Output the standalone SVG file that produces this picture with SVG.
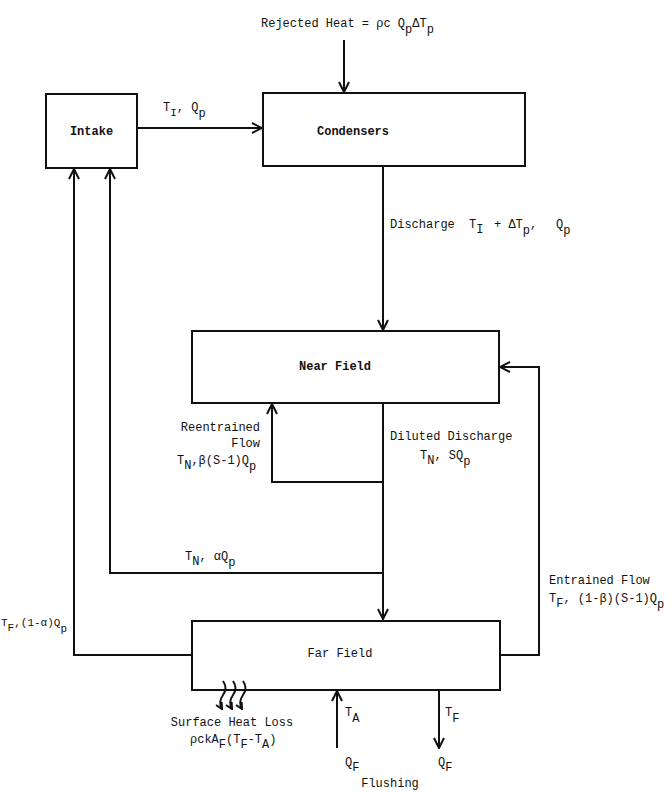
<svg xmlns="http://www.w3.org/2000/svg" width="672" height="792" viewBox="0 0 672 792">
<style>
text{font-family:"Liberation Mono","DejaVu Sans Mono",monospace;font-size:12px;fill:#111}
.b{font-weight:bold}
.box{fill:#fff;stroke:#111;stroke-width:2}
.ln{fill:none;stroke:#111;stroke-width:2}
.s{font-size:11px}
</style>
<defs>
<marker id="ah" viewBox="0 0 12 12" refX="11" refY="6" markerWidth="12" markerHeight="12" markerUnits="userSpaceOnUse" orient="auto">
<path d="M1,1 L11,6 L1,11" fill="none" stroke="#111" stroke-width="2"/>
</marker>
<marker id="ahs" viewBox="0 0 10 10" refX="9" refY="5" markerWidth="8" markerHeight="8" markerUnits="userSpaceOnUse" orient="auto">
<path d="M1,1 L9,5 L1,9" fill="none" stroke="#111" stroke-width="2.5"/>
</marker>
</defs>
<rect width="672" height="792" fill="#fff"/>
<g id="connectors">
<line class="ln" x1="344" y1="40" x2="344" y2="92" marker-end="url(#ah)"/>
<line class="ln" x1="137" y1="128" x2="262" y2="128" marker-end="url(#ah)"/>
<line class="ln" x1="383" y1="166" x2="383" y2="330" marker-end="url(#ah)"/>
<polyline class="ln" points="383,403 383,482 272,482 272,404" marker-end="url(#ah)"/>
<line class="ln" x1="383" y1="482" x2="383" y2="619" marker-end="url(#ah)"/>
<polyline class="ln" points="383,573 110,573 110,169" marker-end="url(#ah)"/>
<polyline class="ln" points="192,655 74,655 74,169" marker-end="url(#ah)"/>
<polyline class="ln" points="500,655 539,655 539,367 500,367" marker-end="url(#ah)"/>
<line class="ln" x1="337" y1="748" x2="337" y2="691" marker-end="url(#ah)"/>
<line class="ln" x1="439" y1="690" x2="439" y2="748" marker-end="url(#ah)"/>
</g>
<g id="intake">
<rect class="box" x="46" y="94" width="91" height="74"/>
<text class="b" x="91.5" y="135" text-anchor="middle">Intake</text>
</g>
<g id="condensers">
<rect class="box" x="263" y="93" width="262" height="73"/>
<text class="b" x="353" y="135" text-anchor="middle">Condensers</text>
</g>
<g id="near-field">
<rect class="box" x="192" y="331" width="307" height="72"/>
<text class="b" x="335" y="370" text-anchor="middle">Near Field</text>
</g>
<g id="far-field">
<rect class="box" x="192" y="621" width="308" height="69"/>
<text x="340" y="657" text-anchor="middle">Far Field</text>
</g>
<g id="heat-loss">
<path class="ln" d="M223,681 q5,7 0,14 q-5,7 -1,14" marker-end="url(#ahs)"/>
<path class="ln" d="M233,681 q5,7 0,14 q-5,7 -1,14" marker-end="url(#ahs)"/>
<path class="ln" d="M243,681 q5,7 0,14 q-5,7 -1,14" marker-end="url(#ahs)"/>
</g>
<g id="labels">
<text x="261" y="27">Rejected Heat = ρc Q<tspan dy="6">p</tspan><tspan dy="-6">ΔT</tspan><tspan dy="6">p</tspan></text>
<text x="163" y="111">T<tspan dy="5" class="s">I</tspan><tspan dy="-5">, Q</tspan><tspan dy="6">p</tspan></text>
<text x="390" y="228">Discharge<tspan x="469">T</tspan><tspan dy="5">I</tspan><tspan dy="-5" x="494">+ ΔT</tspan><tspan dy="6">p</tspan><tspan dy="-6">,</tspan><tspan x="556">Q</tspan><tspan dy="6">p</tspan></text>
<text x="260" y="431" text-anchor="end">Reentrained</text>
<text x="260" y="447" text-anchor="end">Flow</text>
<text x="177" y="464">T<tspan dy="5">N</tspan><tspan dy="-5">,β(S-1)Q</tspan><tspan dy="6">p</tspan></text>
<text x="390" y="440">Diluted Discharge</text>
<text x="420" y="459">T<tspan dy="5">N</tspan><tspan dy="-5">, SQ</tspan><tspan dy="6">p</tspan></text>
<text x="185" y="560">T<tspan dy="5">N</tspan><tspan dy="-5">, αQ</tspan><tspan dy="6">p</tspan></text>
<text x="1" y="626" style="font-size:11px">T<tspan dy="5">F</tspan><tspan dy="-5">,(1-α)Q</tspan><tspan dy="6">p</tspan></text>
<text x="549" y="584">Entrained Flow</text>
<text x="549" y="602">T<tspan dy="5">F</tspan><tspan dy="-5">, (1-β)(S-1)Q</tspan><tspan dy="6">p</tspan></text>
<text x="232" y="726" text-anchor="middle">Surface Heat Loss</text>
<text x="190" y="743">ρckA<tspan dy="5">F</tspan><tspan dy="-5">(T</tspan><tspan dy="5">F</tspan><tspan dy="-5">-T</tspan><tspan dy="5">A</tspan><tspan dy="-5">)</tspan></text>
<text x="345" y="716">T<tspan dy="6">A</tspan></text>
<text x="445" y="716">T<tspan dy="6">F</tspan></text>
<text x="345" y="766">Q<tspan dy="5">F</tspan></text>
<text x="438" y="766">Q<tspan dy="5">F</tspan></text>
<text x="390" y="787" text-anchor="middle">Flushing</text>
</g>
</svg>
